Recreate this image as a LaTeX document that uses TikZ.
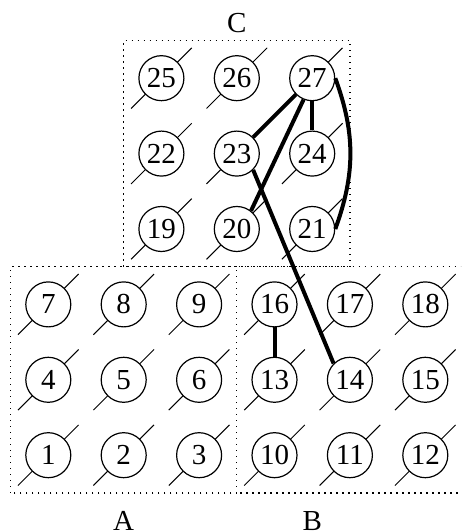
\documentclass[tikz,border=0pt]{standalone}
\usepackage{fontspec}
\setmainfont{Liberation Serif}
\begin{document}
\begin{tikzpicture}[x=37.7pt,y=37.7pt,
  vtx/.style={circle,draw,line width=0.6pt,fill=white,inner sep=0pt,minimum size=22.5pt,font=\fontsize{14.5}{16}\selectfont},
  slash/.style={line width=0.5pt},
  grp/.style={line width=0.6pt,dash pattern=on 0.6pt off 2.4pt},
  lbl/.style={font=\fontsize{14.5}{16}\selectfont},
  link/.style={line width=2pt}]
\useasboundingbox (-0.6406,-1.0053) rectangle (5.4735,6.037);
\clip (-0.6406,-1.0053) rectangle (5.4735,6.037);
% groups
\draw[grp] (-0.5,-0.5) rectangle (2.5,2.5);
\draw[grp] (2.5,-0.5) rectangle (5.5,2.5);
\draw[grp] (1,2.5) rectangle (4,5.5);
\node[lbl] (labA) at (1,-0.87) {A};
\node[lbl] (labB) at (3.5,-0.87) {B};
\node[lbl] (labC) at (2.5,5.732) {C};
% vertices
\foreach \n/\x/\y in {1/0/0,2/1/0,3/2/0,4/0/1,5/1/1,6/2/1,7/0/2,8/1/2,9/2/2,
  10/3/0,11/4/0,12/5/0,13/3/1,14/4/1,15/5/1,16/3/2,17/4/2,18/5/2,
  19/1.5/3,20/2.5/3,21/3.5/3,22/1.5/4,23/2.5/4,24/3.5/4,25/1.5/5,26/2.5/5,27/3.5/5}{
  \draw[slash] (\x,\y) +(-0.402,-0.402) -- +(0.402,0.402);
  \node[vtx] (n\n) at (\x,\y) {\n};
}
% links
\draw[link] (n27.south west) -- (n23.north east);
\draw[link] (n27.248) -- (n20.52);
\draw[link] (n27.south) -- (n24.north);
\draw[link] (n27.east) to[bend left=20] (n21.east);
\draw[link] (n23.south east) -- (n14.north west);
\draw[link] (n16.south) -- (n13.north);
\end{tikzpicture}
\end{document}
